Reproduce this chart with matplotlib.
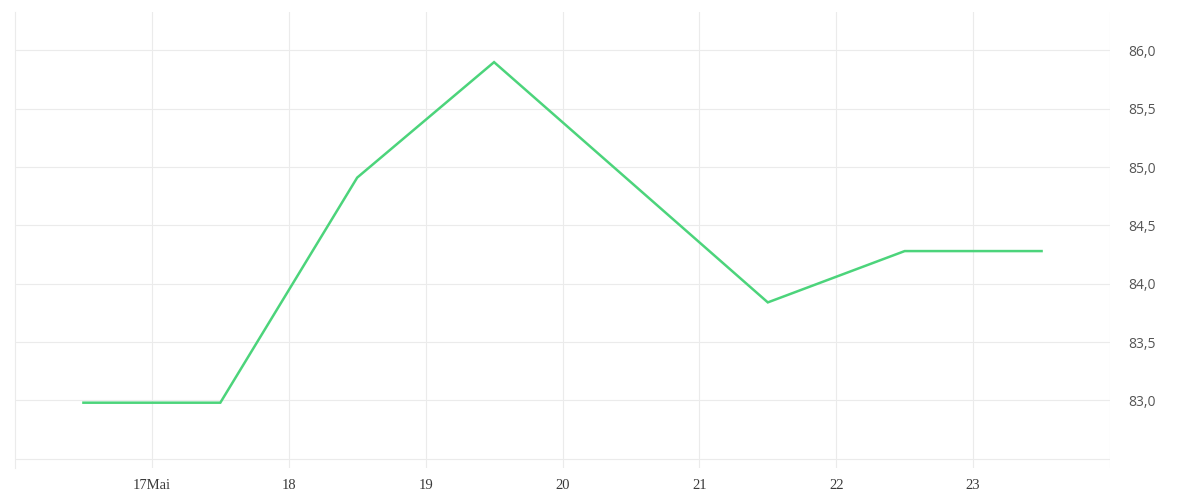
import matplotlib
matplotlib.use("Agg")
import matplotlib.pyplot as plt
from matplotlib.ticker import FuncFormatter

# daily values, plotted at mid-day
days = [16.5, 17.5, 18.5, 19.5, 20.5, 21.5, 22.5, 23.5]
values = [82.98, 82.98, 84.91, 85.90, 84.87, 83.84, 84.28, 84.28]

x_ticks = [17, 18, 19, 20, 21, 22, 23]
x_labels = ["17Mai", "18", "19", "20", "21", "22", "23"]
y_ticks = [82.5, 83.0, 83.5, 84.0, 84.5, 85.0, 85.5, 86.0]

fig = plt.figure(figsize=(12, 5), dpi=100)
ax = fig.add_axes([15 / 1200, 32 / 500, 1095 / 1200, 456 / 500])

ax.plot(days, values, color="#4cd47b", lw=1.8, solid_joinstyle="miter", zorder=3)

ax.set_xlim(16, 24)
ax.set_ylim(82.42, 86.33)

ax.set_xticks(x_ticks)
ax.set_xticklabels(x_labels)
ax.set_yticks(y_ticks)
ax.yaxis.set_major_formatter(FuncFormatter(
    lambda v, p: "" if v < 82.9 else ("%.1f" % v).replace(".", ",")))
ax.yaxis.tick_right()

ax.tick_params(axis="x", length=0, pad=8, labelsize=10.5, labelcolor="#3a3a3a",
               labelfontfamily="Liberation Serif")
ax.tick_params(axis="y", length=0, pad=13, labelsize=10, labelcolor="#555555",
               labelfontfamily="Open Sans")

ax.grid(True, color="#ebebeb", lw=0.8)
for s in ["top", "bottom", "right"]:
    ax.spines[s].set_visible(False)
ax.spines["left"].set_color("#ebebeb")
ax.spines["left"].set_linewidth(0.8)
# right border line like the grid
ax.axvline(24, color="#ebebeb", lw=0.8)

fig.savefig("out.png", dpi=100, facecolor="white")
